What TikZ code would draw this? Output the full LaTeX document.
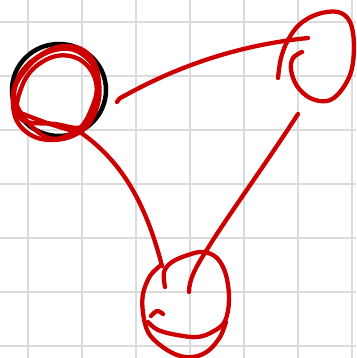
\documentclass[tikz,border=0pt]{standalone}
\begin{document}
\begin{tikzpicture}[x=1pt,y=-1pt,
  gridline/.style={draw=black!14,line width=1.3pt},
  redpen/.style={draw=red!80!black,line width=4.3pt,line cap=round,line join=round},
  blackpen/.style={draw=black,line width=4.5pt,line cap=round}]
\useasboundingbox (0,0) rectangle (356,358);
\fill[white] (0,0) rectangle (356,358);
\foreach \v in {28,82,136,190,244,298,352} {\draw[gridline] (\v,0) -- (\v,358);}
\foreach \h in {22,76,130,184,238,292,346} {\draw[gridline] (0,\h) -- (356,\h);}
% named coordinates
\coordinate (Aout) at (80,132);
\coordinate (Ahook) at (117,102);
\coordinate (Bin) at (308,38);
\coordinate (Bout) at (298,114);
\coordinate (Cin1) at (162,266);
\coordinate (Cin2) at (189,292);
% left node
\draw[blackpen] (59,90) ellipse [x radius=47, y radius=46];
\draw[redpen] plot[smooth cycle,tension=0.7] coordinates {(13,106) (19,76) (42,54) (68,46) (90,56) (99,82) (96,110) (80,132) (50,140) (24,130)};
\draw[redpen] plot[smooth cycle,tension=0.7] coordinates {(20,118) (22,86) (42,62) (70,56) (92,72) (96,100) (84,126) (55,124)};
\draw[redpen] plot[smooth cycle,tension=0.7] coordinates {(15,100) (27,68) (55,50) (82,54) (97,78) (91,110) (74,132) (44,136)};
\draw[redpen] plot[smooth,tension=0.7] coordinates {(18,112) (50,124) (80,133)};
% right node
\draw[redpen] plot[smooth,tension=0.6] coordinates {(278,78) (281,58) (288,40) (300,24) (318,14) (338,12) (350,22) (354,45) (351,72) (340,92) (327,101) (310,98) (297,86) (291,70) (293,58) (302,52)};
% bottom node
\draw[redpen] plot[smooth,tension=0.6] coordinates {(165,287) (164,272) (172,262) (188,255) (203,252) (217,258) (226,275) (229,300) (225,321) (214,331) (198,337) (177,335) (158,330) (148,322)};
\draw[redpen] plot[smooth,tension=0.6] coordinates {(160,266) (150,276) (143,294) (143,313) (148,332) (160,345) (177,355) (193,357) (208,351) (220,337) (226,322)};
\draw[redpen] plot[smooth,tension=0.6] coordinates {(151,316) (157,311) (163,314)};
% connectors
\draw[redpen] (Ahook) .. controls (118,99) and (120,98) .. (124,96) .. controls (180,65) and (240,45) .. (Bin);
\draw[redpen] (Aout) .. controls (120,160) and (145,200) .. (Cin1);
\draw[redpen] (Bout) .. controls (265,165) and (225,220) .. (208,248) .. controls (195,268) and (189,280) .. (Cin2);
\end{tikzpicture}
\end{document}
